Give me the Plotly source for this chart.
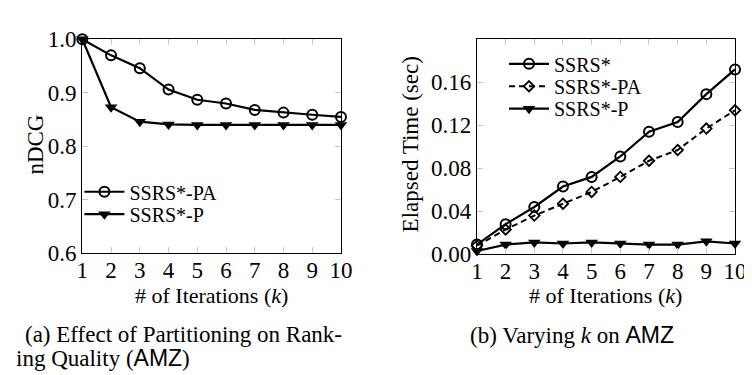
import plotly.graph_objects as go

iterations = [1, 2, 3, 4, 5, 6, 7, 8, 9, 10]

# (a) nDCG
ndcg_pa = [1.0, 0.970, 0.946, 0.906, 0.887, 0.880, 0.868, 0.863, 0.859, 0.855]
ndcg_p = [1.0, 0.873, 0.846, 0.841, 0.840, 0.840, 0.840, 0.840, 0.840, 0.840]

# (b) elapsed time (sec)
time_ssrs = [0.009, 0.028, 0.044, 0.063, 0.072, 0.091, 0.114, 0.123, 0.149, 0.172]
time_pa = [0.008, 0.023, 0.036, 0.047, 0.058, 0.072, 0.087, 0.097, 0.117, 0.134]
time_p = [0.003, 0.009, 0.011, 0.010, 0.011, 0.010, 0.009, 0.009, 0.012, 0.010]

ytick_a = [0.6, 0.7, 0.8, 0.9, 1.0]
ytick_b = [0.0, 0.04, 0.08, 0.12, 0.16]

FONT = "Liberation Serif"
SANS = "Liberation Sans"
W, H = 752, 375
FS = 23
LFS = 20


def px_x(p):
    return p / W


def px_y(p):
    return 1 - p / H


def serif(s):
    return "<span style=\"font-family:'%s'\">%s</span>" % (FONT, s)


fig = go.Figure()

line_style = dict(color="black", width=2.2)
circle = dict(symbol="circle-open", size=10, color="black", line=dict(width=2))
tri = dict(symbol="triangle-down", size=11, color="black")
diam = dict(symbol="diamond-open", size=8, color="black", line=dict(width=1.8))

fig.add_trace(go.Scatter(x=iterations, y=ndcg_pa, name=serif("SSRS*-PA"), mode="lines+markers",
                         line=line_style, cliponaxis=False, marker=circle,
                         xaxis="x", yaxis="y", legend="legend"))
fig.add_trace(go.Scatter(x=iterations, y=ndcg_p, name=serif("SSRS*-P"), mode="lines+markers",
                         line=line_style, cliponaxis=False, marker=tri,
                         xaxis="x", yaxis="y", legend="legend2"))

fig.add_trace(go.Scatter(x=iterations, y=time_ssrs, name=serif("SSRS*"), mode="lines+markers",
                         line=line_style, cliponaxis=False, marker=circle,
                         xaxis="x2", yaxis="y2", legend="legend3"))
fig.add_trace(go.Scatter(x=iterations, y=time_pa, name=serif("SSRS*-PA"), mode="lines+markers",
                         line=dict(color="black", width=2, dash="6px,4px"), cliponaxis=False,
                         marker=diam, xaxis="x2", yaxis="y2", legend="legend4"))
fig.add_trace(go.Scatter(x=iterations, y=time_p, name=serif("SSRS*-P"), mode="lines+markers",
                         line=line_style, cliponaxis=False, marker=tri,
                         xaxis="x2", yaxis="y2", legend="legend5"))

axis_common = dict(showline=True, linecolor="black", linewidth=1.3, mirror="ticks",
                   ticks="inside", ticklen=6, tickcolor="#c8c8c8", tickwidth=1,
                   showgrid=False, zeroline=False,
                   tickfont=dict(family=FONT, size=FS, color="black"))


def leg(xp, yp):
    return dict(x=px_x(xp), y=px_y(yp), xanchor="left", yanchor="middle",
                bgcolor="rgba(0,0,0,0)", font=dict(family=FONT, size=LFS, color="black"),
                itemwidth=40, borderwidth=0)


fig.update_layout(
    width=W, height=H,
    margin=dict(l=0, r=0, t=0, b=0),
    paper_bgcolor="white", plot_bgcolor="white",
    font=dict(family=FONT, color="black"),
    xaxis=dict(domain=[px_x(70), px_x(335)], range=[1, 10], tickvals=iterations,
               anchor="y", ticklabelstandoff=-4, **axis_common),
    yaxis=dict(domain=[px_y(250), px_y(20.7)], range=[0.6, 1.0], tickvals=ytick_a,
               tickformat=".1f", anchor="x", **axis_common),
    xaxis2=dict(domain=[px_x(474.3), px_x(738.7)], range=[1, 10], tickvals=iterations,
                anchor="y2", ticklabelstandoff=-4, **axis_common),
    yaxis2=dict(domain=[px_y(251), px_y(20.7)], range=[0, 0.2], tickvals=ytick_b,
                tickformat=".2f", anchor="x2", **axis_common),
    legend=leg(67, 184),
    legend2=leg(67, 208),
    legend3=leg(502, 47),
    legend4=leg(502, 71),
    legend5=leg(502, 95),
    showlegend=True,
)

amz = "<span style=\"font-family:'%s'\">AMZ</span>" % SANS
annotations = [
    dict(text="# of Iterations (<i>k</i>)", x=px_x(202), y=px_y(295), size=22),
    dict(text="# of Iterations (<i>k</i>)", x=px_x(606), y=px_y(295), size=22),
    dict(text="nDCG", x=px_x(22), y=px_y(133), textangle=-90),
    dict(text="Elapsed Time (sec)", x=px_x(406), y=px_y(133), textangle=-90),
    dict(text="(b) Varying <i>k</i> on " + amz, x=px_x(572), y=px_y(337)),
    dict(text="(a) Effect of Partitioning on Rank-", x=px_x(174), y=px_y(337)),
    dict(text="ing Quality (" + amz + ")", x=px_x(0), y=px_y(362), xanchor="left"),
]
for a in annotations:
    fig.add_annotation(text=a["text"], x=a["x"], y=a["y"], xref="paper", yref="paper",
                       xanchor=a.get("xanchor", "center"), yanchor="middle",
                       textangle=a.get("textangle", 0), showarrow=False,
                       font=dict(family=FONT, size=a.get("size", FS), color="black"))

fig.write_html("out.html")
